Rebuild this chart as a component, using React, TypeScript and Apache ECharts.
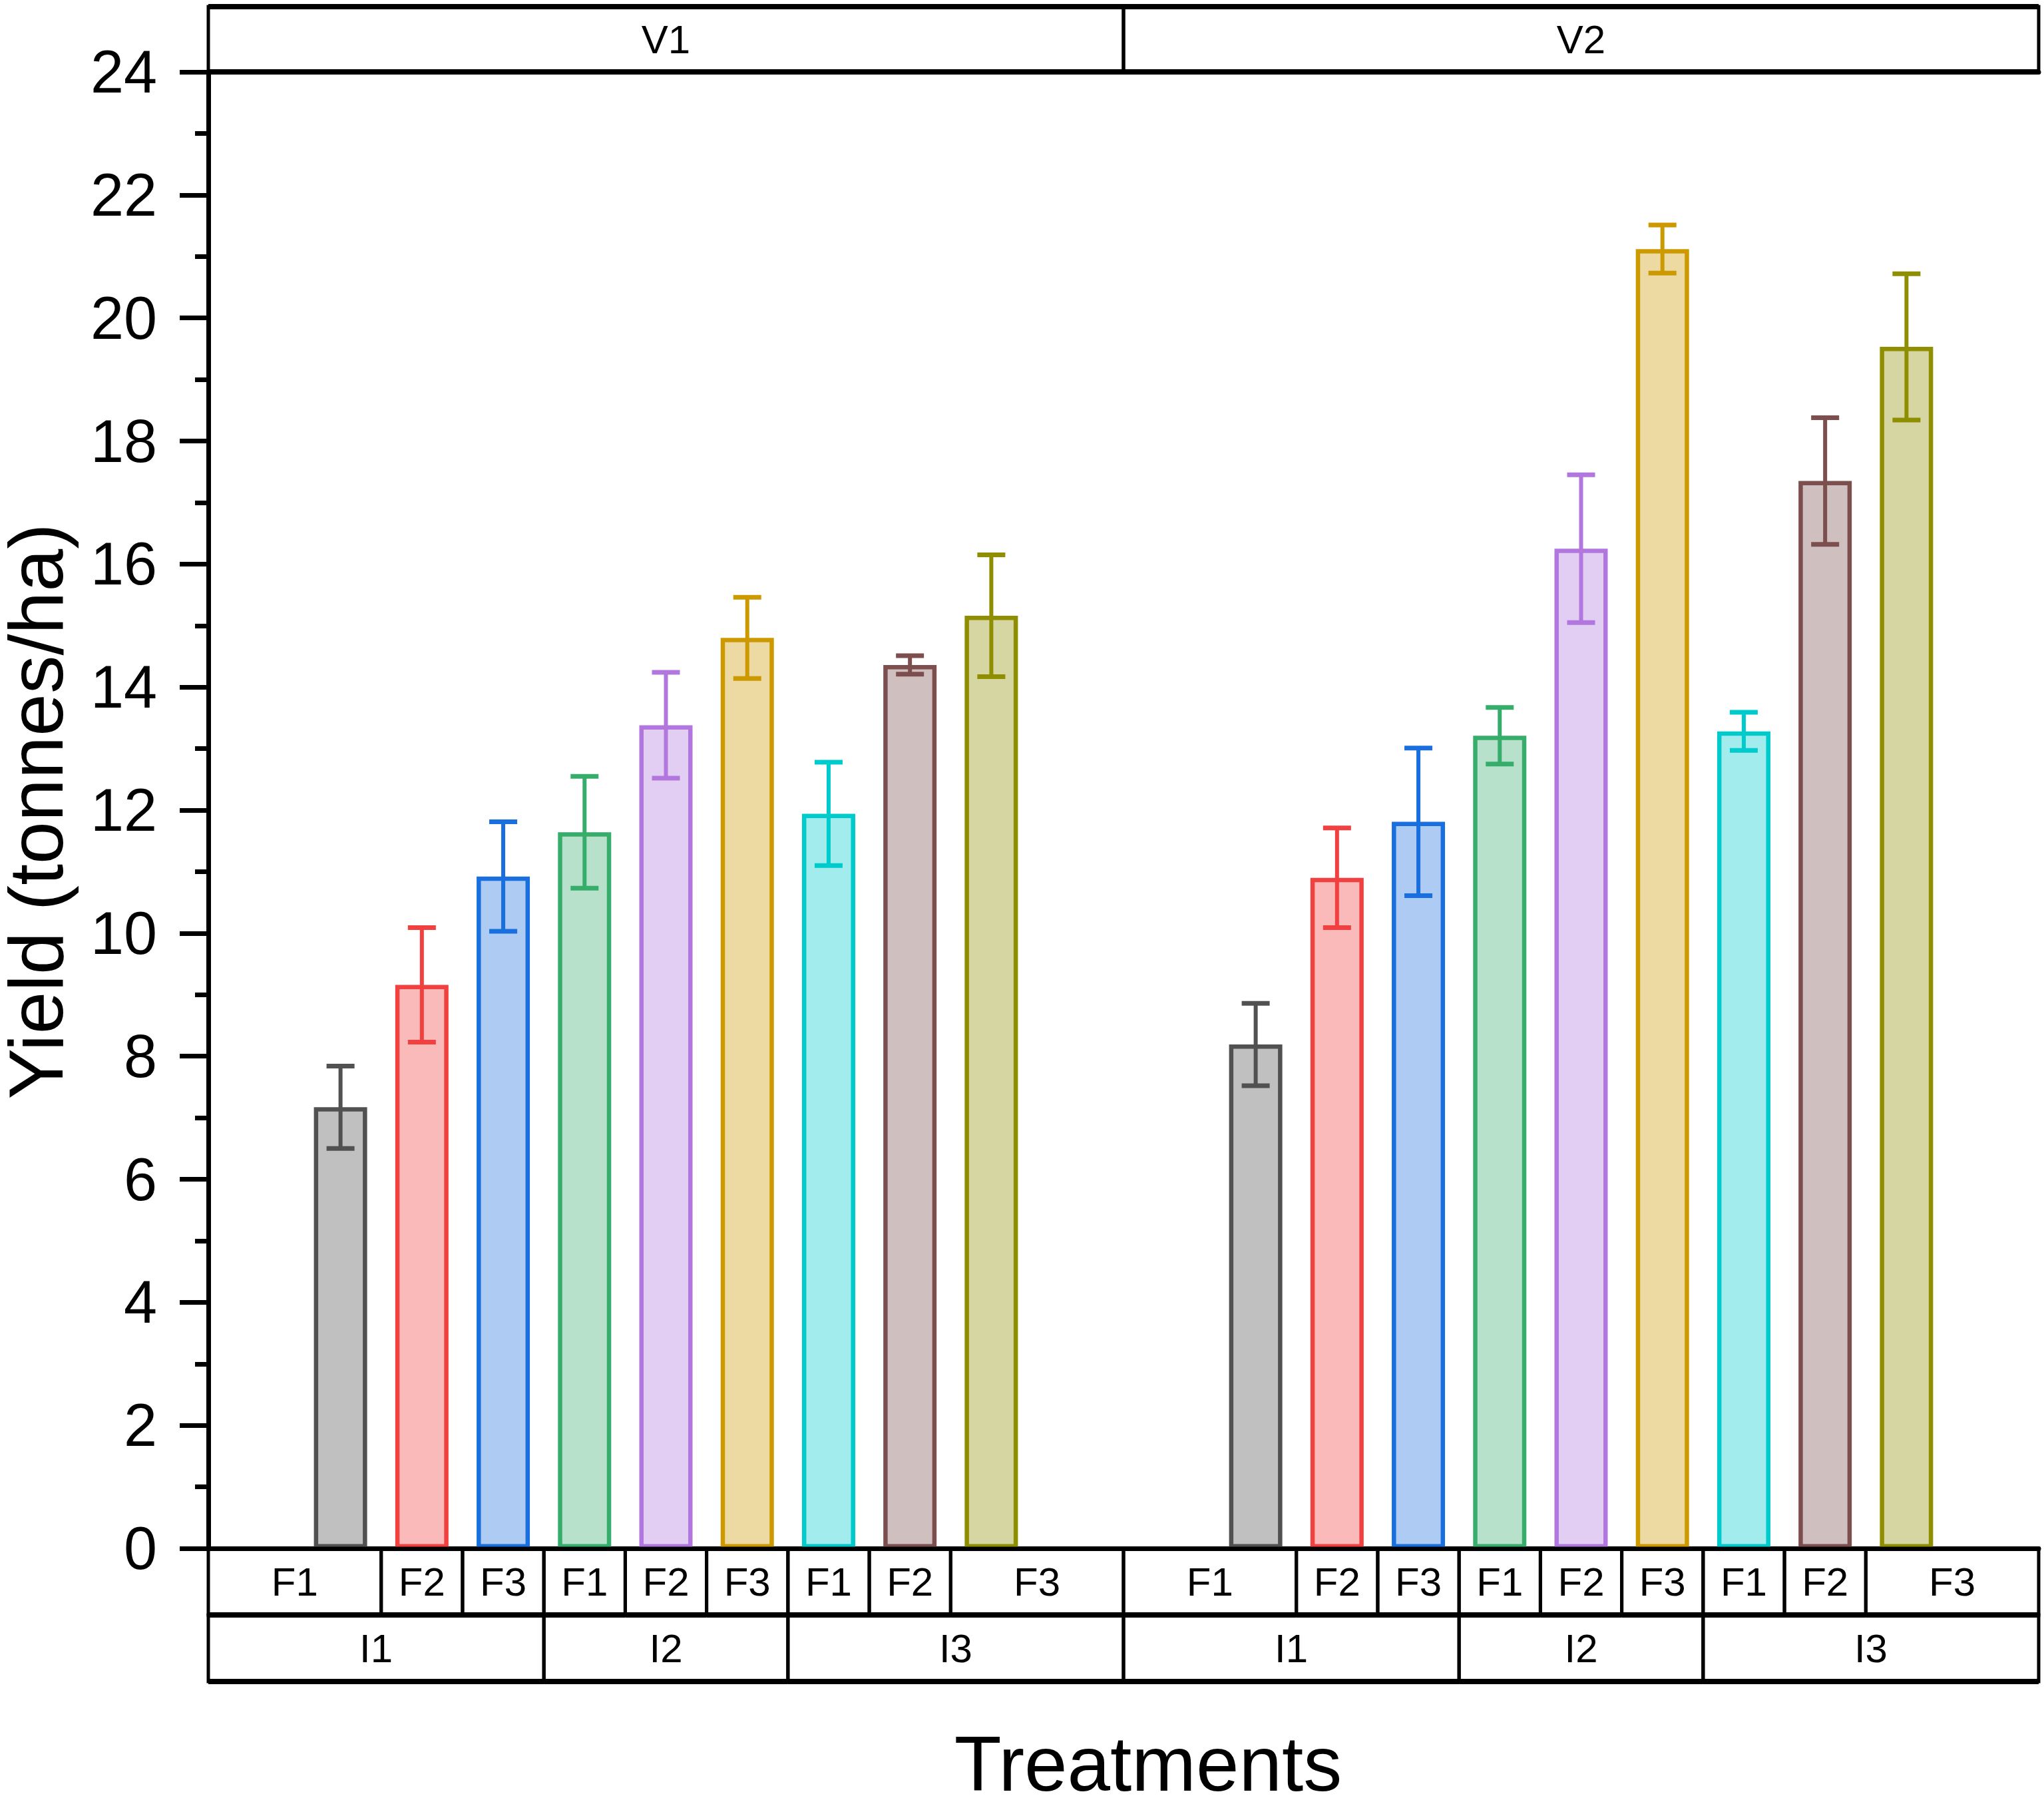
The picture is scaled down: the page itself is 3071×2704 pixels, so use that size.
import React, { useEffect, useRef } from "react";
import * as echarts from "echarts";

const FONT = "'Liberation Sans', Arial, Helvetica, sans-serif";

// ---- data ----
const varieties = ["V1", "V2"];
const irrigation = ["I1", "I2", "I3"];
const fertilizer = ["F1", "F2", "F3"];
const v1Yield = [7.17, 9.16, 10.92, 11.64, 13.38, 14.8, 11.94, 14.36, 15.16];
const v1Err = [0.67, 0.93, 0.89, 0.91, 0.86, 0.66, 0.84, 0.15, 0.99];
const v2Yield = [8.19, 10.9, 11.81, 13.21, 16.25, 21.12, 13.28, 17.35, 19.53];
const v2Err = [0.67, 0.81, 1.2, 0.46, 1.2, 0.39, 0.31, 1.03, 1.19];
const yMin = 0;
const yMax = 24;
const yInterval = 2;

const strokeColors = ["#515151", "#F14040", "#1A6FDF", "#37AD6B", "#B177DE", "#CC9900", "#00CBCC", "#7D4E4E", "#8E8E00"];

// ---- layout helpers (slot units on the value x axis) ----
const PANEL = 11.25;
const FIRST = 1.625;
const pos = (v: number, k: number) => v * PANEL + FIRST + k;

function fillOf(hex: string, a = 0.36) {
  const r = parseInt(hex.slice(1, 3), 16);
  const g = parseInt(hex.slice(3, 5), 16);
  const b = parseInt(hex.slice(5, 7), 16);
  const m = (c: number) => Math.round(255 - a * (255 - c));
  return `rgb(${m(r)},${m(g)},${m(b)})`;
}

export default function App() {
  const ref = useRef<HTMLDivElement>(null);
  useEffect(() => {
    if (!ref.current) return;
    const chart = echarts.init(ref.current, undefined, { renderer: "svg" });

    const yields = [v1Yield, v2Yield];
    const errs = [v1Err, v2Err];

    const barData: any[] = [];
    const errData: any[] = [];
    yields.forEach((arr, v) => {
      arr.forEach((val, k) => {
        const c = strokeColors[k];
        barData.push({
          value: [pos(v, k), val],
          itemStyle: { color: fillOf(c), borderColor: c, borderWidth: 6.5 },
        });
        errData.push([pos(v, k), val, errs[v][k], k]);
      });
    });

    // table cells: [x0, x1, row], labels separately
    const cells: number[][] = [];
    const cellLabels: string[] = [];
    varieties.forEach((vl, v) => {
      const base = v * PANEL;
      cells.push([base, base + PANEL, 0]);
      cellLabels.push(vl);
      for (let k = 0; k < 9; k++) {
        const x0 = k === 0 ? base : pos(v, k) - 0.5;
        const x1 = k === 8 ? base + PANEL : pos(v, k) + 0.5;
        cells.push([x0, x1, 1]);
        cellLabels.push(fertilizer[k % 3]);
      }
      irrigation.forEach((il, i) => {
        const x0 = i === 0 ? base : pos(v, i * 3) - 0.5;
        const x1 = i === 2 ? base + PANEL : pos(v, i * 3 + 2) + 0.5;
        cells.push([x0, x1, 2]);
        cellLabels.push(il);
      });
    });

    const HEADER_H = 98;
    const ROW_H = 100;

    const option: any = {
      animation: false,
      backgroundColor: "#fff",
      grid: { left: 313, right: 8, top: 108, bottom: 378, containLabel: false },
      xAxis: [
        {
          type: "value",
          min: 0,
          max: PANEL * 2,
          position: "bottom",
          axisLine: { show: true, onZero: false, lineStyle: { color: "#000", width: 7 } },
          axisTick: { show: false },
          axisLabel: { show: false },
          splitLine: { show: false },
        },
        {
          type: "value",
          min: 0,
          max: PANEL * 2,
          position: "top",
          axisLine: { show: true, onZero: false, lineStyle: { color: "#000", width: 7 } },
          axisTick: { show: false },
          axisLabel: { show: false },
          splitLine: { show: false },
        },
      ],
      yAxis: [
        {
          type: "value",
          min: yMin,
          max: yMax,
          interval: yInterval,
          position: "left",
          axisLine: { show: true, lineStyle: { color: "#000", width: 7 } },
          axisTick: { show: true, inside: false, length: 43, lineStyle: { color: "#000", width: 7 } },
          minorTick: { show: true, splitNumber: 2, length: 20, lineStyle: { color: "#000", width: 7 } },
          axisLabel: { fontSize: 90, fontFamily: FONT, color: "#000", margin: 77 },
          splitLine: { show: false },
          minorSplitLine: { show: false },
        },
        {
          type: "value",
          min: yMin,
          max: yMax,
          interval: yInterval,
          position: "right",
          axisLine: { show: true, lineStyle: { color: "#000", width: 5 } },
          axisTick: { show: false },
          axisLabel: { show: false },
          splitLine: { show: false },
        },
      ],
      series: [
        {
          type: "bar",
          xAxisIndex: 0,
          yAxisIndex: 0,
          barWidth: 80,
          data: barData,
          z: 2,
        },
        {
          type: "custom",
          xAxisIndex: 0,
          yAxisIndex: 0,
          z: 3,
          encode: { x: 0, y: 1 },
          data: errData,
          renderItem: (params: any, api: any) => {
            const x = api.value(0);
            const v = api.value(1);
            const e = api.value(2);
            const k = api.value(3);
            const top = api.coord([x, v + e]);
            const bot = api.coord([x, v - e]);
            const c = strokeColors[k];
            const st = { stroke: c, lineWidth: 6 };
            const cap = 21;
            return {
              type: "group",
              children: [
                { type: "line", shape: { x1: top[0], y1: top[1], x2: bot[0], y2: bot[1] }, style: st },
                { type: "line", shape: { x1: top[0] - cap, y1: top[1], x2: top[0] + cap, y2: top[1] }, style: { ...st, lineWidth: 7 } },
                { type: "line", shape: { x1: bot[0] - cap, y1: bot[1], x2: bot[0] + cap, y2: bot[1] }, style: { ...st, lineWidth: 7 } },
              ],
            };
          },
        },
        {
          type: "custom",
          xAxisIndex: 0,
          yAxisIndex: 0,
          z: 4,
          clip: false,
          encode: { x: [0, 1], y: 2 },
          data: cells,
          renderItem: (params: any, api: any) => {
            const x0 = api.coord([api.value(0), 0])[0];
            const x1 = api.coord([api.value(1), 0])[0];
            const row = api.value(2);
            const yBase = api.coord([0, yMin])[1];
            const yTop = api.coord([0, yMax])[1];
            let top: number, bottom: number;
            if (row === 0) {
              top = yTop - HEADER_H;
              bottom = yTop;
            } else if (row === 1) {
              top = yBase;
              bottom = yBase + ROW_H;
            } else {
              top = yBase + ROW_H;
              bottom = yBase + 2 * ROW_H;
            }
            const label = cellLabels[params.dataIndex];
            const children: any[] = [
              {
                type: "rect",
                shape: { x: x0, y: top, width: x1 - x0, height: bottom - top },
                style: { fill: "none", stroke: "#000", lineWidth: 5 },
              },
              {
                type: "line",
                shape: { x1: x0, y1: bottom, x2: x1, y2: bottom },
                style: { stroke: "#000", lineWidth: 8 },
              },
              {
                type: "text",
                x: (x0 + x1) / 2,
                y: (top + bottom) / 2,
                style: {
                  text: label,
                  fontSize: 60,
                  fontFamily: FONT,
                  fill: "#000",
                  align: "center",
                  verticalAlign: "middle",
                },
              },
            ];
            if (row === 0) {
              children.push({
                type: "line",
                shape: { x1: x0, y1: top, x2: x1, y2: top },
                style: { stroke: "#000", lineWidth: 8 },
              });
            }
            return { type: "group", children };
          },
        },
      ],
      graphic: [
        {
          type: "text",
          x: 54,
          y: 1219,
          rotation: Math.PI / 2,
          style: {
            text: "Yield (tonnes/ha)",
            fontSize: 115,
            fontFamily: FONT,
            fill: "#000",
            align: "center",
            verticalAlign: "middle",
          },
        },
        {
          type: "text",
          x: 1725,
          y: 2650,
          style: {
            text: "Treatments",
            fontSize: 116,
            fontFamily: FONT,
            fill: "#000",
            align: "center",
            verticalAlign: "middle",
          },
        },
      ],
    };

    chart.setOption(option);
    return () => chart.dispose();
  }, []);

  return (
    <div
      ref={ref}
      style={{ position: "absolute", left: 0, top: 0, width: 3071, height: 2704, background: "#fff" }}
    />
  );
}
